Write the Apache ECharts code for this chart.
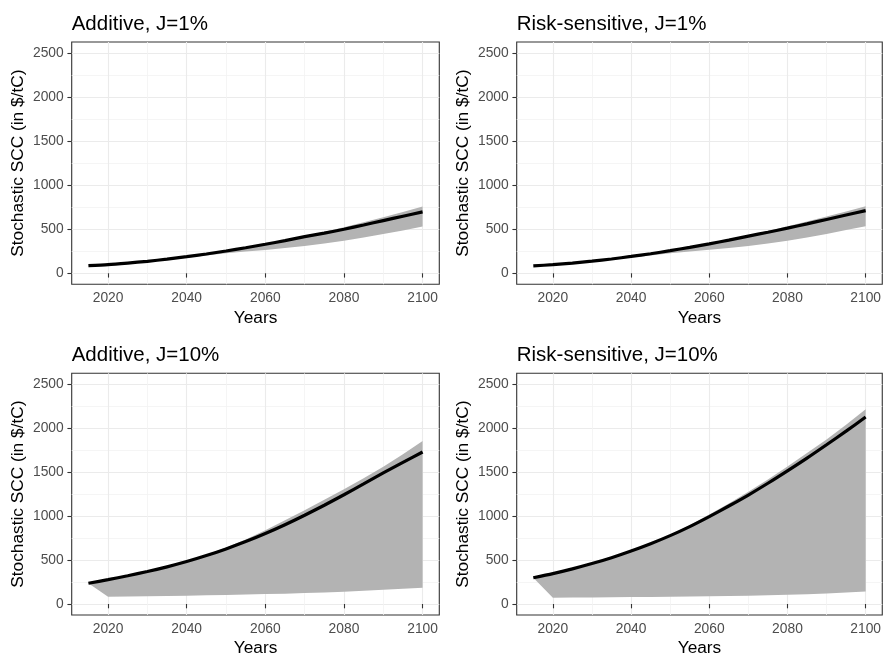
<!DOCTYPE html>
<html>
<head>
<meta charset="utf-8">
<script src="https://cdn.jsdelivr.net/npm/echarts@6/dist/echarts.min.js"></script>
<style>
html,body{margin:0;padding:0;background:#fff;}
#chart{width:884px;height:658px;}
</style>
</head>
<body>
<div id="chart"></div>
<script>
const years = [2015,2020,2025,2030,2035,2040,2045,2050,2055,2060,2065,2070,2075,2080,2085,2090,2095,2100];

const addJ1Line  = [86,98,116,136,161,189,219,253,290,329,371,416,456,500,548,598,648,697];
const addJ1Upper = [86,99,117,137,162,191,222,257,295,336,380,427,472,523,578,636,696,757];
const addJ1Lower = [86,96,112,130,152,177,201,227,246,265,287,310,338,370,405,445,487,530];

const riskJ1Line  = [84,98,116,137,162,191,222,257,294,334,377,422,466,512,561,611,661,711];
const riskJ1Upper = [84,99,117,138,163,193,225,261,300,340,385,432,480,533,588,645,702,760];
const riskJ1Lower = [84,96,112,131,153,178,202,228,247,266,288,310,338,370,406,445,490,535];

const addJ10Line  = [236,277,322,370,423,483,551,627,710,802,902,1010,1124,1243,1367,1492,1612,1730];
const addJ10Upper = [236,278,324,373,428,490,561,643,735,840,952,1066,1185,1307,1432,1563,1705,1855];
const addJ10Lower = [236,83,85,88,91,95,99,103,108,113,118,124,131,140,150,161,173,186];

const riskJ10Line  = [299,346,400,460,527,603,686,778,881,995,1115,1240,1374,1515,1660,1812,1967,2127];
const riskJ10Upper = [299,347,402,463,531,608,693,788,896,1018,1143,1277,1418,1565,1718,1872,2040,2215];
const riskJ10Lower = [299,72,73,75,77,79,81,83,85,88,91,95,99,104,112,121,131,143];

const panelTitles = ['Additive, J=1%','Risk-sensitive, J=1%','Additive, J=10%','Risk-sensitive, J=10%'];
const xTicks = [2020,2040,2060,2080,2100];
const xMinor = [2030,2050,2070,2090];
const yTicks = [0,500,1000,1500,2000,2500];
const yMinor = [250,750,1250,1750,2250];
const xLabel = 'Years';
const yLabel = 'Stochastic SCC (in $/tC)';

const panels = [
  {line: addJ1Line, upper: addJ1Upper, lower: addJ1Lower},
  {line: riskJ1Line, upper: riskJ1Upper, lower: riskJ1Lower},
  {line: addJ10Line, upper: addJ10Upper, lower: addJ10Lower},
  {line: riskJ10Line, upper: riskJ10Upper, lower: riskJ10Lower}
];

const FONT = 'Liberation Sans, Arial, Helvetica, sans-serif';
const XMIN = 2010.75, XMAX = 2104.25, YMIN = -125, YMAX = 2625;
const lefts = [71.7, 516.7];
const tops = [42, 373.3];
const widths = [367.6, 366.6];
const height = 242.3;

const grid = [], xAxis = [], yAxis = [], series = [], title = [];
panels.forEach((p, i) => {
  const col = i % 2, row = Math.floor(i / 2);
  grid.push({
    left: lefts[col], top: tops[row], width: widths[col], height: height,
    show: true, backgroundColor: '#fff', borderColor: '#333333', borderWidth: 1.1,
    containLabel: false
  });
  title.push({
    text: panelTitles[i], left: lefts[col], top: tops[row] - 28.5, padding: 0,
    textStyle: {fontFamily: FONT, fontSize: 20.5, fontWeight: 'normal', color: '#000'}
  });
  xAxis.push({
    type: 'value', gridIndex: i, min: XMIN, max: XMAX, position: 'bottom',
    name: xLabel, nameLocation: 'middle', nameGap: 25,
    nameTextStyle: {fontFamily: FONT, fontSize: 17.3, color: '#000', verticalAlign: 'top'},
    axisLine: {show: false},
    axisTick: {show: true, length: 4.3, lineStyle: {color: '#333', width: 1.1}, customValues: xTicks},
    axisLabel: {show: true, margin: 7, fontFamily: FONT, fontSize: 13.8, color: '#4d4d4d', customValues: xTicks, formatter: v => String(v)},
    splitLine: {show: true, lineStyle: {color: '#ebebeb', width: 1.1}}
  });
  xAxis.push({
    type: 'value', gridIndex: i, min: XMIN, max: XMAX, position: 'top',
    axisLine: {show: false},
    axisTick: {show: false, customValues: xMinor},
    axisLabel: {show: false, customValues: xMinor},
    splitLine: {show: true, lineStyle: {color: '#f2f2f2', width: 0.8}}
  });
  yAxis.push({
    type: 'value', gridIndex: i, min: YMIN, max: YMAX, position: 'left',
    name: yLabel, nameLocation: 'middle', nameGap: 45, nameRotate: 90,
    nameTextStyle: {fontFamily: FONT, fontSize: 17.3, color: '#000'},
    axisLine: {show: false},
    axisTick: {show: true, length: 4.3, lineStyle: {color: '#333', width: 1.1}, customValues: yTicks},
    axisLabel: {show: true, margin: 8, fontFamily: FONT, fontSize: 13.8, color: '#4d4d4d', customValues: yTicks, formatter: v => String(v)},
    splitLine: {show: true, lineStyle: {color: '#ebebeb', width: 1.1}}
  });
  yAxis.push({
    type: 'value', gridIndex: i, min: YMIN, max: YMAX, position: 'right',
    axisLine: {show: false},
    axisTick: {show: false, customValues: yMinor},
    axisLabel: {show: false, customValues: yMinor},
    splitLine: {show: true, lineStyle: {color: '#f2f2f2', width: 0.8}}
  });
  const xi = 2 * i, yi = 2 * i;
  const bandData = years.map((y, k) => [y, p.lower[k], p.upper[k]]);
  series.push({
    type: 'custom', xAxisIndex: xi, yAxisIndex: yi, silent: true, z: 2,
    data: [0],
    encode: {x: -1, y: -1},
    renderItem: function (params, api) {
      const pts = [];
      bandData.forEach(d => pts.push(api.coord([d[0], d[2]])));
      for (let k = bandData.length - 1; k >= 0; k--) pts.push(api.coord([bandData[k][0], bandData[k][1]]));
      return {type: 'polygon', shape: {points: pts}, style: {fill: '#b3b3b3', stroke: null}};
    }
  });
  series.push({
    type: 'line', xAxisIndex: xi, yAxisIndex: yi,
    data: years.map((y, k) => [y, p.line[k]]),
    smooth: 0.25,
    showSymbol: false, symbol: 'none', lineStyle: {color: '#000', width: 3.2, cap: 'butt'}, silent: true, z: 3
  });
});

const chart = echarts.init(document.getElementById('chart'), null, {renderer: 'canvas'});
chart.setOption({
  animation: false,
  backgroundColor: '#fff',
  title, grid, xAxis, yAxis, series
});
</script>
</body>
</html>
